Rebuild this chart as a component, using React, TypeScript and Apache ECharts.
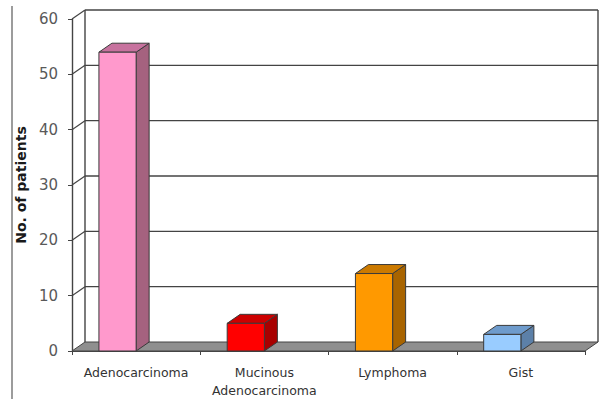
import React, { useEffect, useRef } from "react";
import * as echarts from "echarts";

const categories = ["Adenocarcinoma", "Mucinous\nAdenocarcinoma", "Lymphoma", "Gist"];
const patients = [54, 5, 14, 3];
const yTicks = [0, 10, 20, 30, 40, 50, 60];

const faceColors = ["#FF99CC", "#FF0000", "#FF9900", "#99CCFF"];
const topColors = ["#C7729E", "#CC0000", "#CC7A00", "#6E9BCC"];
const sideColors = ["#A5627F", "#A80000", "#A86400", "#5C80A8"];

// 3D depth offset of the wall/floor and bars
const DX = 13;
const DY = -9;
const LINE = "#444444";

export default function App() {
  const ref = useRef<HTMLDivElement>(null);

  useEffect(() => {
    if (!ref.current) return;
    const chart = echarts.init(ref.current, null, { renderer: "svg" });

    const option: any = {
      animation: false,
      backgroundColor: "#ffffff",
      textStyle: { fontFamily: "DejaVu Sans" },
      grid: { left: 72, right: 21, top: 19, bottom: 45, show: false },
      xAxis: {
        type: "category",
        data: categories,
        boundaryGap: true,
        axisLine: { show: true, lineStyle: { color: LINE, width: 1 } },
        axisTick: { show: true, length: 4, lineStyle: { color: LINE } },
        axisLabel: {
          color: "#333333",
          fontSize: 12.5,
          lineHeight: 18,
          margin: 12,
          interval: 0,
        },
        splitLine: { show: false },
      },
      yAxis: {
        type: "value",
        min: 0,
        max: 60,
        interval: 10,
        name: "No. of patients",
        nameLocation: "middle",
        nameRotate: 90,
        nameGap: 42,
        nameTextStyle: { fontSize: 14, fontWeight: "bold", color: "#1a1a1a" },
        axisLine: { show: true, lineStyle: { color: LINE, width: 1.4 } },
        axisTick: { show: true, length: 4, lineStyle: { color: LINE } },
        axisLabel: { color: "#595959", fontSize: 15, margin: 14 },
        splitLine: { show: false },
      },
      graphic: [
        {
          type: "line",
          shape: { x1: 12, y1: 6, x2: 12, y2: 399 },
          style: { stroke: "#5a5a5a", lineWidth: 1.2 },
          silent: true,
        },
      ],
      series: [
        {
          // back wall, side wall diagonals and floor
          type: "custom",
          data: yTicks.map((v) => [0, v]),
          encode: { x: 0, y: 1 },
          z: 1,
          silent: true,
          renderItem: (params: any, api: any) => {
            const cs = params.coordSys;
            const v = api.value(1);
            const y = api.coord([0, v])[1];
            const left = cs.x;
            const right = cs.x + cs.width;
            const children: any[] = [];
            if (v === 0) {
              children.push({
                type: "polygon",
                shape: {
                  points: [
                    [left, y],
                    [right, y],
                    [right + DX, y + DY],
                    [left + DX, y + DY],
                  ],
                },
                style: { fill: "#8F8F8F", stroke: LINE, lineWidth: 1 },
              });
              const topY = cs.y + DY;
              children.push({
                type: "line",
                shape: { x1: left + DX, y1: topY, x2: left + DX, y2: y + DY },
                style: { stroke: LINE, lineWidth: 1.4 },
              });
              children.push({
                type: "line",
                shape: { x1: right + DX, y1: topY, x2: right + DX, y2: y + DY },
                style: { stroke: LINE, lineWidth: 1.4 },
              });
            } else {
              children.push({
                type: "line",
                shape: { x1: left + DX, y1: y + DY, x2: right + DX, y2: y + DY },
                style: { stroke: LINE, lineWidth: 1.4 },
              });
              children.push({
                type: "line",
                shape: { x1: left, y1: y, x2: left + DX, y2: y + DY },
                style: { stroke: LINE, lineWidth: 1.2 },
              });
            }
            return { type: "group", children };
          },
        },
        {
          // 3D bars: front face, top face and side face
          type: "custom",
          data: patients.map((v, i) => [i, v]),
          encode: { x: 0, y: 1 },
          z: 3,
          renderItem: (params: any, api: any) => {
            const i = api.value(0);
            const v = api.value(1);
            const band = api.size([1, 0])[0];
            const [cx, yb] = api.coord([i, 0]);
            const yt = api.coord([i, v])[1];
            const x0 = cx - band / 2 + band * 0.21;
            const x1 = x0 + band * 0.29;
            const stroke = "#3a3a3a";
            return {
              type: "group",
              children: [
                {
                  type: "polygon",
                  shape: {
                    points: [
                      [x1, yt],
                      [x1 + DX, yt + DY],
                      [x1 + DX, yb + DY],
                      [x1, yb],
                    ],
                  },
                  style: { fill: sideColors[i], stroke, lineWidth: 1 },
                },
                {
                  type: "polygon",
                  shape: {
                    points: [
                      [x0, yt],
                      [x1, yt],
                      [x1 + DX, yt + DY],
                      [x0 + DX, yt + DY],
                    ],
                  },
                  style: { fill: topColors[i], stroke, lineWidth: 1 },
                },
                {
                  type: "rect",
                  shape: { x: x0, y: yt, width: x1 - x0, height: yb - yt },
                  style: { fill: faceColors[i], stroke, lineWidth: 1 },
                },
              ],
            };
          },
        },
      ],
    };

    chart.setOption(option);
    return () => chart.dispose();
  }, []);

  return (
    <div
      ref={ref}
      style={{ position: "absolute", left: 0, top: 0, width: 606, height: 399 }}
    />
  );
}
